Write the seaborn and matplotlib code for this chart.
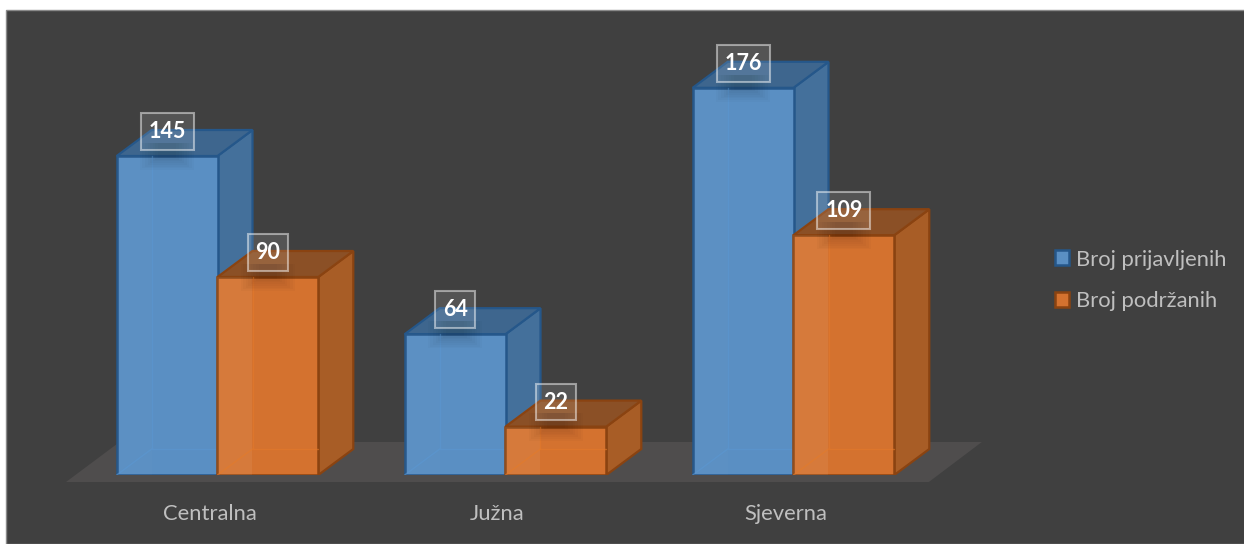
import matplotlib
matplotlib.use("Agg")
import matplotlib.pyplot as plt
import matplotlib.patches as mpatches
import pandas as pd
import seaborn as sns

# data
regije = ["Centralna", "Južna", "Sjeverna"]
prijavljeni = [145, 64, 176]
podrzani = [90, 22, 109]
serije = ["Broj prijavljenih", "Broj podržanih"]

W, H = 1244, 544
BG = "#404040"
TXT = "#bfbfbf"
# front, side, top, edge for each series
boje = {
    serije[0]: ("#5a8fc3", "#44709b", "#3e668e", "#25578a"),
    serije[1]: ("#d4722f", "#a85d26", "#8b5026", "#8a4311"),
}
# colour of the faint inner edges and strength of the left strip
unutra = {serije[0]: ("#5b97d2", 0.015), serije[1]: ("#e47a2a", 0.06)}

sns.set_theme(style="white")
plt.rcParams["font.family"] = ["Lato", "DejaVu Sans"]

df = pd.DataFrame({
    "regija": regije * 2,
    "serija": [serije[0]] * 3 + [serije[1]] * 3,
    "broj": prijavljeni + podrzani,
})

fig = plt.figure(figsize=(W / 100, H / 100), dpi=100, facecolor="white")
fig.patches.append(mpatches.Rectangle((6 / W, 0), 1, 1 - 10 / H, transform=fig.transFigure,
                                      facecolor=BG, edgecolor="#8a8a8a", linewidth=1, zorder=-1))

# axes placed so that one category = 288 px and one unit = 2.2 px
ax = fig.add_axes([73.5 / W, (H - 475) / H, 864 / W, 465 / H])
ax.patch.set_alpha(0)
sns.barplot(data=df, x="regija", y="broj", hue="serija", order=regije, hue_order=serije,
            width=0.70, gap=0, dodge=True, saturation=1, legend=False,
            palette={s: boje[s][0] for s in serije}, ax=ax)
ax.set_xlim(-0.5, 2.5)
ax.set_ylim(0, 465 / 2.2)
sns.despine(ax=ax, left=True, bottom=True)

dx = 35 / 288
dy = 26 / 2.2

# floor of the 3d chart
pod = mpatches.Polygon([(-0.526, -7 / 2.2), (2.47, -7 / 2.2), (2.654, 33 / 2.2), (-0.34, 33 / 2.2)],
                       closed=True, facecolor="#4f4d4d", edgecolor="none", zorder=1, clip_on=False)
ax.add_patch(pod)

for i, (serija, cont) in enumerate(zip(serije, ax.containers)):
    front, side, top, edge = boje[serija]
    linija, jakost = unutra[serija]
    for bar in cont:
        x0, w, v = bar.get_x(), bar.get_width(), bar.get_height()
        x1 = x0 + w
        z = 2 + i * 2
        ax.add_patch(mpatches.Polygon([(x1, 0), (x1 + dx, dy), (x1 + dx, v + dy), (x1, v)],
                                      facecolor=side, edgecolor=edge, linewidth=1.6, zorder=z))
        ax.add_patch(mpatches.Polygon([(x0, v), (x0 + dx, v + dy), (x1 + dx, v + dy), (x1, v)],
                                      facecolor=top, edgecolor=edge, linewidth=1.6, zorder=z))
        bar.set_edgecolor(edge)
        bar.set_linewidth(1.8)
        bar.set_zorder(z + 0.5)
        # inner faces seen through the glassy front
        ax.add_patch(mpatches.Rectangle((x0, 0), dx, v, facecolor="white", alpha=jakost,
                                        edgecolor="none", zorder=z + 0.6))
        ax.plot([x0 + dx, x0 + dx, x1], [v, dy, dy], color=linija, lw=1, alpha=0.6, zorder=z + 0.7)
        ax.plot([x0, x0 + dx], [0, dy], color=linija, lw=1, alpha=0.6, zorder=z + 0.7)

        # value label in a translucent box, with a soft shadow on the bar top
        cx = x0 + w / 2
        for k in range(8):
            pola = 0.095 - k * 0.009
            ax.add_patch(mpatches.Rectangle((cx - pola, v - (8 - k) * 0.8), 2 * pola, (8 - k) * 0.8 + 6,
                                            facecolor="black", alpha=0.018, edgecolor="none", zorder=z + 0.8))
        ax.text(cx, v + 26.5 / 2.2, str(int(v)), ha="center", va="center_baseline", color="white",
                fontsize=15.5, fontweight="bold", zorder=10,
                bbox=dict(boxstyle="square,pad=0.36", facecolor=(1, 1, 1, 0.11),
                          edgecolor=(1, 1, 1, 0.48), linewidth=1.5))

ax.set_xticks([p - 8 / 288 for p in range(3)], regije)
ax.set_xlabel("")
ax.set_ylabel("")
ax.set_yticks([])
ax.tick_params(axis="x", length=0, pad=21, labelsize=15.8, labelcolor=TXT)

rucke = [mpatches.Patch(facecolor=boje[s][0], edgecolor=boje[s][3], linewidth=1.8, label=s) for s in serije]
fig.legend(handles=rucke, loc="center left", bbox_to_anchor=(1035 / W, 1 - 280.5 / H), frameon=False,
           fontsize=15.8, labelcolor=TXT, handlelength=0.66, handleheight=0.66, handletextpad=0.3,
           labelspacing=1.0)

fig.savefig("out.png", dpi=100, facecolor="white")
